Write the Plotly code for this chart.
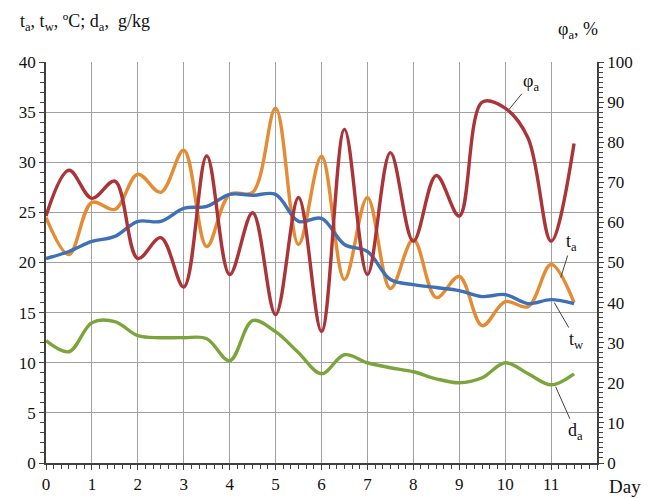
import plotly.graph_objects as go

days = [0, 0.5, 1, 1.5, 2, 2.5, 3, 3.5, 4, 4.5, 5, 5.5, 6, 6.5, 7, 7.5, 8, 8.5, 9, 9.5, 10, 10.5, 11, 11.5]
t_w = [20.4, 21.1, 22.1, 22.6, 24.1, 24.1, 25.4, 25.6, 26.8, 26.7, 26.8, 24.1, 24.4, 21.8, 21.1, 18.3, 17.8, 17.5, 17.2, 16.6, 16.8, 15.9, 16.3, 15.9]
t_a = [24.5, 20.8, 26.0, 25.3, 28.8, 27.0, 31.2, 21.6, 26.8, 27.0, 35.4, 21.8, 30.6, 18.3, 26.5, 17.4, 22.3, 16.5, 18.6, 13.7, 16.1, 15.6, 19.8, 16.0]
phi_a = [61.6, 73.0, 66.0, 70.3, 51.0, 56.2, 43.9, 76.6, 47.0, 62.4, 37.0, 66.2, 32.8, 83.2, 47.0, 77.4, 55.3, 71.7, 61.6, 90.0, 88.5, 81.0, 55.3, 79.7]
d_a = [12.2, 11.1, 14.0, 14.1, 12.7, 12.5, 12.5, 12.4, 10.2, 14.2, 13.1, 11.0, 8.9, 10.8, 10.0, 9.5, 9.1, 8.4, 8.0, 8.5, 10.0, 8.9, 7.8, 8.9]
x_ticks = list(range(0, 13))
x_tick_text = [str(i) for i in range(0, 12)] + [" "]

FONT = "Liberation Serif"
RED = "#AB3438"
ORANGE = "#E48B33"
BLUE = "#3E70B6"
GREEN = "#7BA53A"
GRID = "#A0A0A0"
AXIS = "#404040"
LW = 3.4

fig = go.Figure()
fig.add_trace(go.Scatter(x=days, y=t_a, mode="lines", line=dict(color=ORANGE, width=LW, shape="spline"), name="t_a"))
fig.add_trace(go.Scatter(x=days, y=phi_a, mode="lines", yaxis="y2", line=dict(color=RED, width=LW, shape="spline"), name="phi_a"))
fig.add_trace(go.Scatter(x=days, y=t_w, mode="lines", line=dict(color=BLUE, width=LW, shape="spline"), name="t_w"))
fig.add_trace(go.Scatter(x=days, y=d_a, mode="lines", line=dict(color=GREEN, width=LW, shape="spline"), name="d_a"))

tickfont = dict(family=FONT, size=17, color="#111111")

# the page body has an 8px default margin, so the figure is sized/margined to compensate
fig.update_layout(
    width=644, height=490,
    margin=dict(l=38, r=55, t=54, b=35),
    paper_bgcolor="white", plot_bgcolor="white",
    showlegend=False,
    xaxis=dict(range=[0, 12], tickmode="array", tickvals=x_ticks, ticktext=x_tick_text,
               automargin=False,
               showgrid=True, gridcolor=GRID, gridwidth=1.2,
               showline=True, linecolor=AXIS, linewidth=1.5, mirror=False,
               ticks="outside", ticklen=5, tickcolor=AXIS, tickfont=tickfont,
               zeroline=False,
               minor=dict(dtick=1/6, ticks="outside", ticklen=4, tickcolor=AXIS, showgrid=False)),
    yaxis=dict(range=[0, 40], dtick=5, showgrid=True, gridcolor=GRID, gridwidth=1.2,
               automargin=False,
               showline=True, linecolor=AXIS, linewidth=1.5,
               ticks="outside", ticklen=5, tickcolor=AXIS, tickfont=tickfont, zeroline=False,
               minor=dict(dtick=1, ticks="outside", ticklen=4, tickcolor=AXIS, showgrid=False)),
    yaxis2=dict(range=[0, 100], dtick=10, overlaying="y", side="right", showgrid=False,
                automargin=False,
                showline=True, linecolor=AXIS, linewidth=1.5,
                ticks="outside", ticklen=5, tickcolor=AXIS, tickfont=tickfont, zeroline=False,
                minor=dict(dtick=1.25, ticks="outside", ticklen=4, tickcolor=AXIS, showgrid=False)),
)

fig.add_annotation(xref="paper", yref="paper", x=-0.05, y=1.0, yshift=40, xanchor="left", yanchor="middle",
                   text="t<sub>a</sub>, t<sub>w</sub>, ºC; d<sub>a</sub>,  g/kg", showarrow=False,
                   font=dict(family=FONT, size=18, color="#111111"))
fig.add_annotation(xref="paper", yref="paper", x=1.0, y=1.0, yshift=32, xshift=3, xanchor="right", yanchor="middle",
                   text="φ<sub>a</sub>, %", showarrow=False,
                   font=dict(family=FONT, size=18, color="#111111"))
fig.add_annotation(xref="paper", yref="paper", x=1.0, y=0.0, yshift=-23, xshift=10, xanchor="left", yanchor="middle",
                   text="Day", showarrow=False,
                   font=dict(family=FONT, size=19, color="#111111"))

labels = [
    ("φ<sub>a</sub>", 10.09, 35.3, 22, -27),
    ("t<sub>a</sub>", 11.21, 18.5, 11, -35),
    ("t<sub>w</sub>", 11.07, 16.0, 22, 38),
    ("d<sub>a</sub>", 11.1, 7.6, 20, 45),
]
for txt, xv, yv, ax, ay in labels:
    fig.add_annotation(x=xv, y=yv, xref="x", yref="y", text=txt, showarrow=True,
                       arrowhead=0, arrowwidth=1, arrowcolor=AXIS, ax=ax, ay=ay,
                       standoff=0, font=dict(family=FONT, size=18, color="#111111"))

fig.write_html("out.html")
